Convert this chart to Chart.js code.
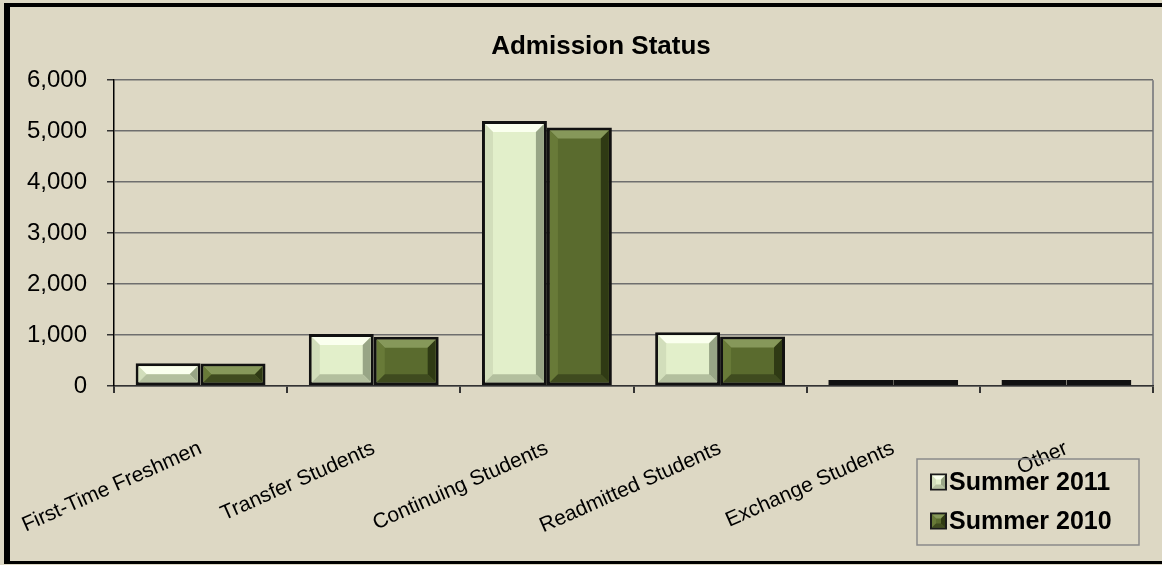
<!DOCTYPE html>
<html>
<head>
<meta charset="utf-8">
<script src="https://cdn.jsdelivr.net/npm/chart.js@4.4.1/dist/chart.umd.min.js"></script>
<style>
  html, body { margin: 0; padding: 0; width: 1162px; height: 565px; overflow: hidden; background: #DDD8C4; }
  #frame {
    position: absolute; left: 4px; top: 3px;
    width: 1190px; height: 554px;
    border-left: 6px solid #000; border-top: 4px solid #000; border-bottom: 3px solid #000;
    background: #DDD8C4;
  }
  #wrap { position: absolute; left: 0; top: 0; width: 1182px; height: 554px; }
</style>
</head>
<body>
<div id="frame"><div id="wrap"><canvas id="chart"></canvas></div></div>
<script>
const categories = ['First-Time Freshmen', 'Transfer Students', 'Continuing Students', 'Readmitted Students', 'Exchange Students', 'Other'];
const summer2011 = [445, 1020, 5200, 1055, 45, 45];
const summer2010 = [440, 967, 5070, 970, 40, 50];
const seriesNames = ['Summer 2011', 'Summer 2010'];
const yTicks = [0, 1000, 2000, 3000, 4000, 5000, 6000];

// bevel shades per series: fill, top, left, right, bottom
const shades = [
    { fill: '#E2EFCA', top: '#FAFFEE', left: '#D2DEBB', right: '#98A586', bottom: '#B3BF9E' },
    { fill: '#5A6B2E', top: '#86985A', left: '#687A38', right: '#2F3A14', bottom: '#3F4B1F' }
];

function bevel(ctx, l, t, r, b, s, bw) {
    const h = b - t, w = r - l;
    if (h <= 1 || w <= 1) return;
    const d = Math.min(bw, h / 2, w / 2);
    const poly = (pts, color) => {
        ctx.beginPath();
        ctx.moveTo(pts[0][0], pts[0][1]);
        pts.slice(1).forEach(p => ctx.lineTo(p[0], p[1]));
        ctx.closePath();
        ctx.fillStyle = color;
        ctx.fill();
    };
    poly([[l, t], [r, t], [r - d, t + d], [l + d, t + d]], s.top);
    poly([[l, t], [l + d, t + d], [l + d, b - d], [l, b]], s.left);
    poly([[r, t], [r, b], [r - d, b - d], [r - d, t + d]], s.right);
    poly([[l, b], [l + d, b - d], [r - d, b - d], [r, b]], s.bottom);
}

const bevelPlugin = {
    id: 'bevel',
    afterDatasetsDraw(chart) {
        const ctx = chart.ctx;
        ctx.save();
        chart.data.datasets.forEach((ds, i) => {
            chart.getDatasetMeta(i).data.forEach(bar => {
                const p = bar.getProps(['x', 'y', 'base', 'width'], true);
                const bw = 3;
                const l = p.x - p.width / 2 + bw, r = p.x + p.width / 2 - bw;
                const t = Math.min(p.y, p.base) + bw, b = Math.max(p.y, p.base) - bw;
                bevel(ctx, l, t, r, b, shades[i], 8);
            });
        });
        ctx.restore();
    }
};

const boxLegend = {
    id: 'boxLegend',
    afterDraw(chart, args, opts) {
        const ctx = chart.ctx;
        const x0 = chart.width - opts.right - opts.width;
        const y0 = chart.height - opts.bottom - opts.height;
        ctx.save();
        ctx.strokeStyle = '#8a8a8a';
        ctx.lineWidth = 1.5;
        ctx.strokeRect(x0, y0, opts.width, opts.height);
        ctx.font = 'bold 25px Arial, "Liberation Sans", sans-serif';
        ctx.textBaseline = 'middle';
        chart.data.datasets.forEach((ds, i) => {
            const cy = y0 + 23 + i * 39;
            const mx = x0 + 13, ms = 17;
            ctx.fillStyle = '#1a1a1a';
            ctx.fillRect(mx, cy - ms / 2, ms, ms);
            ctx.fillStyle = shades[i].fill;
            ctx.fillRect(mx + 2, cy - ms / 2 + 2, ms - 4, ms - 4);
            bevel(ctx, mx + 2, cy - ms / 2 + 2, mx + ms - 2, cy + ms / 2 - 2, shades[i], 4);
            ctx.fillStyle = '#000';
            ctx.fillText(ds.label, mx + ms + 2, cy + 1);
        });
        ctx.restore();
    }
};

new Chart(document.getElementById('chart'), {
    type: 'bar',
    data: {
        labels: categories,
        datasets: [
            { label: seriesNames[0], data: summer2011, backgroundColor: shades[0].fill, borderColor: '#111', borderWidth: 3, borderSkipped: false, minBarLength: 6 },
            { label: seriesNames[1], data: summer2010, backgroundColor: shades[1].fill, borderColor: '#111', borderWidth: 3, borderSkipped: false, minBarLength: 6 }
        ]
    },
    plugins: [bevelPlugin, boxLegend],
    options: {
        responsive: true,
        maintainAspectRatio: false,
        animation: false,
        layout: { padding: 0 },
        datasets: { bar: { categoryPercentage: 0.75, barPercentage: 1 } },
        plugins: {
            legend: { display: false },
            tooltip: { enabled: false },
            title: {
                display: true,
                text: 'Admission Status',
                color: '#000',
                font: { family: 'Arial, "Liberation Sans", sans-serif', size: 26, weight: 'bold' },
                padding: { top: 24, bottom: 18 }
            },
            boxLegend: { right: 53, bottom: 16, width: 222, height: 86 }
        },
        scales: {
            x: {
                offset: true,
                grid: {
                    offset: true,
                    drawOnChartArea: true,
                    // only the closing line on the right edge of the plot is shown
                    color: ctx => ctx.index === undefined ? '#8a8a8a' : 'rgba(0,0,0,0)',
                    lineWidth: 2,
                    tickColor: '#333',
                    tickLength: 7
                },
                border: { color: '#333', width: 1.5 },
                ticks: {
                    color: '#000',
                    font: { family: 'Arial, "Liberation Sans", sans-serif', size: 21 },
                    minRotation: 24,
                    maxRotation: 24,
                    autoSkip: false,
                    padding: 43
                },
                afterFit(scale) {
                    scale.height = 175;
                    scale.paddingLeft = 0;
                    scale.paddingRight = 0;
                }
            },
            y: {
                min: 0,
                max: 6000,
                afterBuildTicks(scale) { scale.ticks = yTicks.map(v => ({ value: v })); },
                grid: { color: '#6e6e6e', lineWidth: 1.5, tickColor: '#333', tickLength: 7 },
                border: { color: '#000', width: 1.5 },
                ticks: {
                    color: '#000',
                    font: { family: 'Arial, "Liberation Sans", sans-serif', size: 24 },
                    padding: 20,
                    callback: v => v.toLocaleString('en-US')
                },
                afterFit(scale) { scale.width = 104; }
            },
            // empty strip on the right so the plot ends short of the canvas edge
            spacer: {
                type: 'linear',
                position: 'right',
                display: true,
                grid: { display: false },
                border: { display: false },
                ticks: { display: false },
                afterFit(scale) { scale.width = 39; }
            }
        }
    }
});
</script>
</body>
</html>
